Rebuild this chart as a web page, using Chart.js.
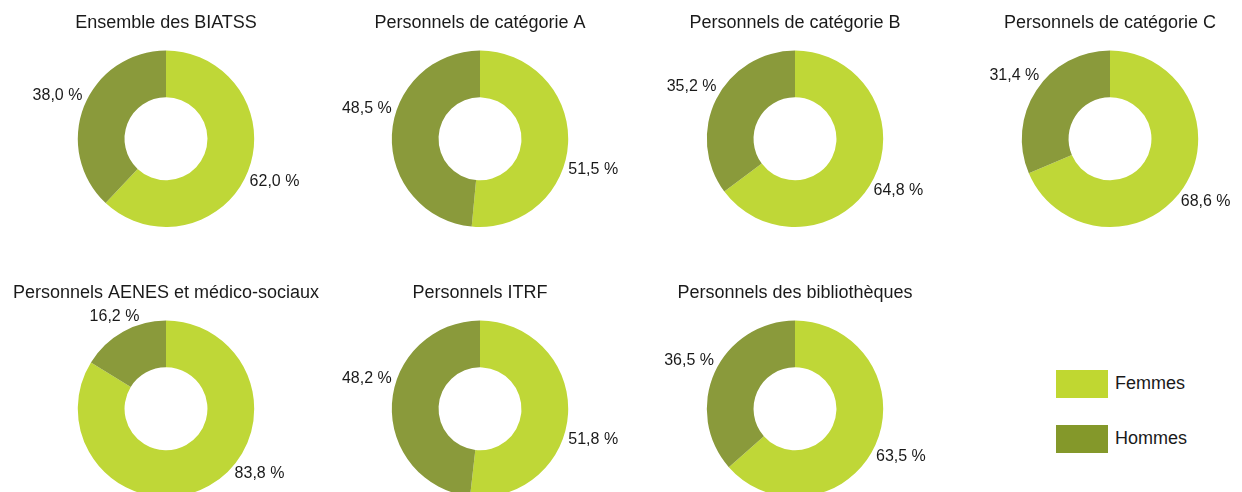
<!DOCTYPE html>
<html>
<head>
<meta charset="utf-8">
<script src="https://cdn.jsdelivr.net/npm/chart.js@4"></script>
<style>
    html, body {
        margin: 0;
        padding: 0;
        width: 1242px;
        height: 492px;
        overflow: hidden;
        background: #ffffff;
        font-family: "Liberation Sans", Arial, sans-serif;
    }
    .cell {
        position: absolute;
        width: 314px;
        height: 246px;
    }
    .legend {
        position: absolute;
        left: 1056px;
        top: 370px;
    }
    .legend-item {
        position: relative;
        height: 28px;
        margin-bottom: 27px;
    }
    .legend-box {
        position: absolute;
        left: 0;
        top: 0;
        width: 52px;
        height: 28px;
    }
    .legend-text {
        position: absolute;
        left: 59px;
        top: 3px;
        font-size: 18px;
        color: #1a1a1a;
        white-space: nowrap;
    }
</style>
</head>
<body>
<div id="charts"></div>
<div class="legend" id="legend"></div>
<script>
// Chart data
const categories = [
    'Ensemble des BIATSS',
    'Personnels de catégorie A',
    'Personnels de catégorie B',
    'Personnels de catégorie C',
    'Personnels AENES et médico-sociaux',
    'Personnels ITRF',
    'Personnels des bibliothèques'
];
const seriesNames = ['Femmes', 'Hommes'];
const femmes = [62.0, 51.5, 64.8, 68.6, 83.8, 51.8, 63.5];
const hommes = [38.0, 48.5, 35.2, 31.4, 16.2, 48.2, 36.5];

// Colors
const sliceColors = ['#BFD737', '#8A9A3B'];
const legendColors = ['#C0D731', '#84982A'];
const textColor = '#1a1a1a';

// Grid layout (centre x of each column, top of each row)
const colCenters = [166, 480, 795, 1110];
const rowTops = [0, 270];

// distance from centre to the nearest point of a label box
function boxGap(cx, cy, halfW, halfH) {
    const nx = Math.max(Math.abs(cx) - halfW, 0);
    const ny = Math.max(Math.abs(cy) - halfH, 0);
    return Math.sqrt(nx * nx + ny * ny);
}

// Percent labels placed outside each slice, just clear of the ring
const outsideLabels = {
    id: 'outsideLabels',
    afterDraw(chart) {
        const ctx = chart.ctx;
        const meta = chart.getDatasetMeta(0);
        const data = chart.data.datasets[0].data;
        const canvasTop = chart.canvas.getBoundingClientRect().top;
        const limitY = 474 - canvasTop;
        const minElev = 15 * Math.PI / 180;
        const halfW = 24, halfH = 3, gap = 5;

        ctx.save();
        ctx.font = '16px "Liberation Sans", Arial, sans-serif';
        ctx.fillStyle = textColor;
        ctx.textAlign = 'center';
        ctx.textBaseline = 'middle';

        meta.data.forEach((arc, i) => {
            const p = arc.getProps(['x', 'y', 'startAngle', 'endAngle', 'outerRadius'], true);
            const mid = (p.startAngle + p.endAngle) / 2;
            const clear = p.outerRadius + gap;
            let dx = Math.cos(mid);
            let dy = Math.sin(mid);
            // keep labels a little away from the horizontal
            const side = dx >= 0 ? 1 : -1;
            let elev = Math.asin(Math.min(Math.abs(dy), 1));
            if (elev < minElev) {
                const sign = dy === 0 ? side : Math.sign(dy);
                dy = sign * Math.sin(minElev);
                dx = side * Math.cos(minElev);
            }
            // walk outwards until the box clears the ring
            let d = p.outerRadius;
            while (boxGap(dx * d, dy * d, halfW, halfH) < clear && d < 400) d += 0.5;
            let lx = p.x + dx * d;
            let ly = p.y + dy * d;
            // slide sideways if the label would fall off the page
            if (ly > limitY) {
                ly = limitY;
                let ox = 0;
                while (boxGap(ox, ly - p.y, halfW, halfH) < clear && ox < 400) ox += 0.5;
                lx = p.x + side * ox;
            }
            const text = data[i].toFixed(1).replace('.', ',') + ' %';
            ctx.fillText(text, lx, ly);
        });
        ctx.restore();
    }
};

function createDoughnut(container, index) {
    const cell = document.createElement('div');
    cell.className = 'cell';
    const col = index % 4;
    const row = Math.floor(index / 4);
    cell.style.left = (colCenters[col] - 157) + 'px';
    cell.style.top = rowTops[row] + 'px';
    const canvas = document.createElement('canvas');
    canvas.width = 314;
    canvas.height = 246;
    cell.appendChild(canvas);
    container.appendChild(cell);

    return new Chart(canvas, {
        type: 'doughnut',
        data: {
            labels: seriesNames,
            datasets: [{
                data: [femmes[index], hommes[index]],
                backgroundColor: sliceColors,
                borderWidth: 0,
                hoverOffset: 0,
                offset: 0
            }]
        },
        options: {
            responsive: false,
            animation: false,
            events: [],
            cutout: '47%',
            layout: {
                padding: { top: 0, bottom: 19, left: 0, right: 0 }
            },
            plugins: {
                legend: { display: false },
                tooltip: { enabled: false },
                title: {
                    display: true,
                    text: categories[index],
                    color: textColor,
                    font: {
                        family: '"Liberation Sans", Arial, sans-serif',
                        size: 18,
                        weight: 'normal',
                        lineHeight: 1.2
                    },
                    padding: { top: 12, bottom: 17 }
                }
            }
        },
        plugins: [outsideLabels]
    });
}

function buildLegend() {
    const legend = document.getElementById('legend');
    seriesNames.forEach((name, i) => {
        const item = document.createElement('div');
        item.className = 'legend-item';
        const box = document.createElement('div');
        box.className = 'legend-box';
        box.style.background = legendColors[i];
        const label = document.createElement('div');
        label.className = 'legend-text';
        label.textContent = name;
        item.appendChild(box);
        item.appendChild(label);
        legend.appendChild(item);
    });
}

document.addEventListener('DOMContentLoaded', function() {
    const container = document.getElementById('charts');
    categories.forEach((_, i) => createDoughnut(container, i));
    buildLegend();
});
</script>
</body>
</html>
